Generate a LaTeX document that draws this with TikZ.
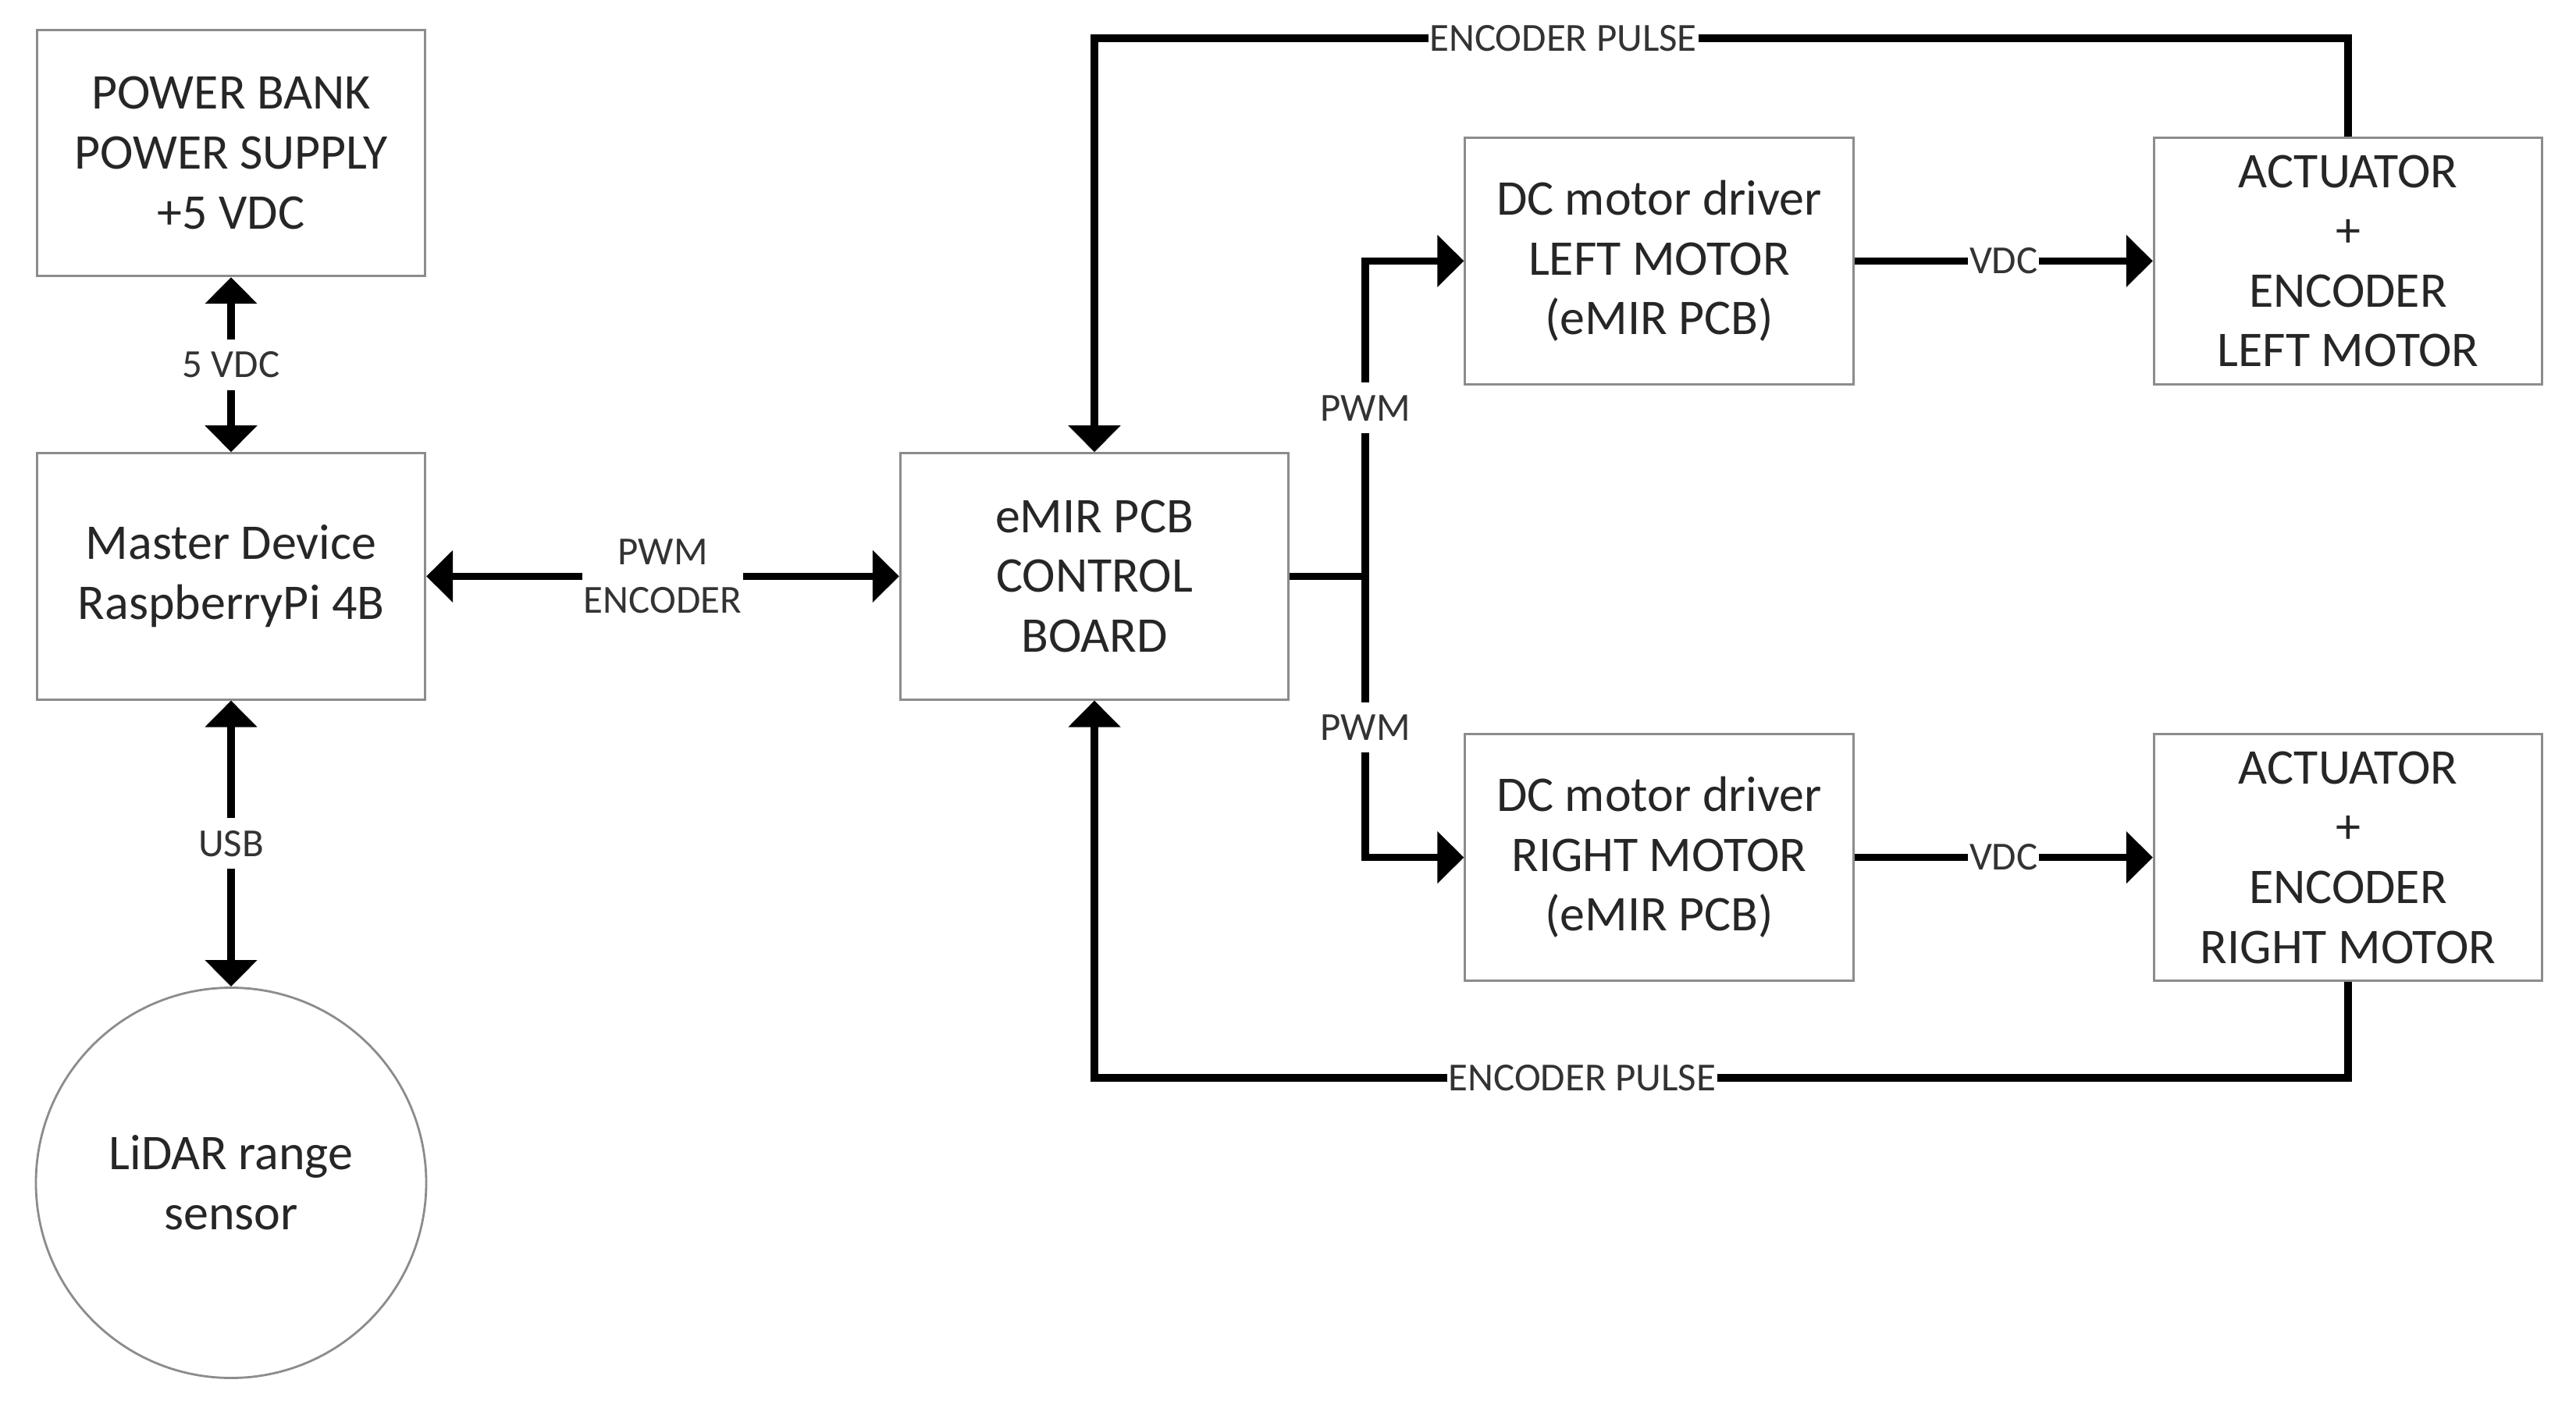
\documentclass[tikz,border=0pt]{standalone}
\usepackage{fontspec}
\setmainfont{Carlito}
\usetikzlibrary{arrows.meta}
\begin{document}
\begin{tikzpicture}[
  box/.style={rectangle, draw=black!45, line width=0.8pt, minimum width=4.975cm, minimum height=3.155cm, align=center, font=\fontsize{18.2}{21.8}\selectfont, text=black!85},
  sensor/.style={circle, draw=black!45, line width=0.8pt, minimum size=5cm, inner sep=0pt, align=center, font=\fontsize{18.2}{21.8}\selectfont, text=black!85},
  wire/.style={-{Triangle[length=3.4mm, width=6.5mm]}, line width=2.7pt},
  biwire/.style={{Triangle[length=3.4mm, width=6.5mm]}-{Triangle[length=3.4mm, width=6.5mm]}, line width=2.7pt},
  bus/.style={line width=2.7pt},
  signal/.style={fill=white, inner xsep=0.5pt, inner ysep=4.5pt, align=center, font=\fontsize{14.5}{17.5}\selectfont, text=black!80}
]
\useasboundingbox (0, 0) rectangle (33, 18.03);

% Left column
\node[box] (power) at (2.96, 16.07) {POWER BANK\\POWER SUPPLY\\+5 VDC};
\node[box] (master) at (2.96, 10.646) {Master Device\\RaspberryPi 4B};
\node[sensor] (lidar) at (2.96, 2.875) {LiDAR range\\sensor};

% Control board
\node[box] (board) at (14.02, 10.646) {eMIR PCB\\CONTROL\\BOARD};

% Left motor
\node[box] (driverL) at (21.255, 14.686) {DC motor driver\\LEFT MOTOR\\(eMIR PCB)};
\node[box] (actL) at (30.08, 14.686) {ACTUATOR\\+\\ENCODER\\LEFT MOTOR};

% Right motor
\node[box] (driverR) at (21.255, 7.044) {DC motor driver\\RIGHT MOTOR\\(eMIR PCB)};
\node[box] (actR) at (30.08, 7.044) {ACTUATOR\\+\\ENCODER\\RIGHT MOTOR};

% Corners of the wires
\coordinate (split) at (17.49, 10.646);
\coordinate (splitL) at (17.49, 14.686);
\coordinate (splitR) at (17.49, 7.044);
\coordinate (topR) at (30.08, 17.542);
\coordinate (topL) at (14.02, 17.542);
\coordinate (lowR) at (30.08, 4.22);
\coordinate (lowL) at (14.02, 4.22);

% Wires on the left
\draw[biwire] (power) -- node[signal] (vdcLabel) {5 VDC} (master);
\draw[biwire] (master) -- node[signal] (usbLabel) {USB} (lidar);
\draw[biwire] (master) -- node[signal] (linkLabel) {PWM\\ENCODER} (board);

% PWM branches
\draw[bus] (board.east) -- (split);
\draw[wire] (split) -- node[signal, pos=0.534] (pwmL) {PWM} (splitL) -- (driverL.west);
\draw[wire] (split) -- node[signal, pos=0.538] (pwmR) {PWM} (splitR) -- (driverR.west);

% Driver to actuator
\draw[wire] (driverL) -- node[signal, inner ysep=2pt] (vdcL) {VDC} (actL);
\draw[wire] (driverR) -- node[signal, inner ysep=2pt] (vdcR) {VDC} (actR);

% Encoder feedback
\draw[wire] (actL.north) -- (topR) -- node[signal, pos=0.626, inner ysep=2pt] (pulseL) {ENCODER PULSE} (topL) -- (board.north);
\draw[wire] (actR.south) -- (lowR) -- node[signal, pos=0.611, inner ysep=2pt] (pulseR) {ENCODER PULSE} (lowL) -- (board.south);

\end{tikzpicture}
\end{document}
